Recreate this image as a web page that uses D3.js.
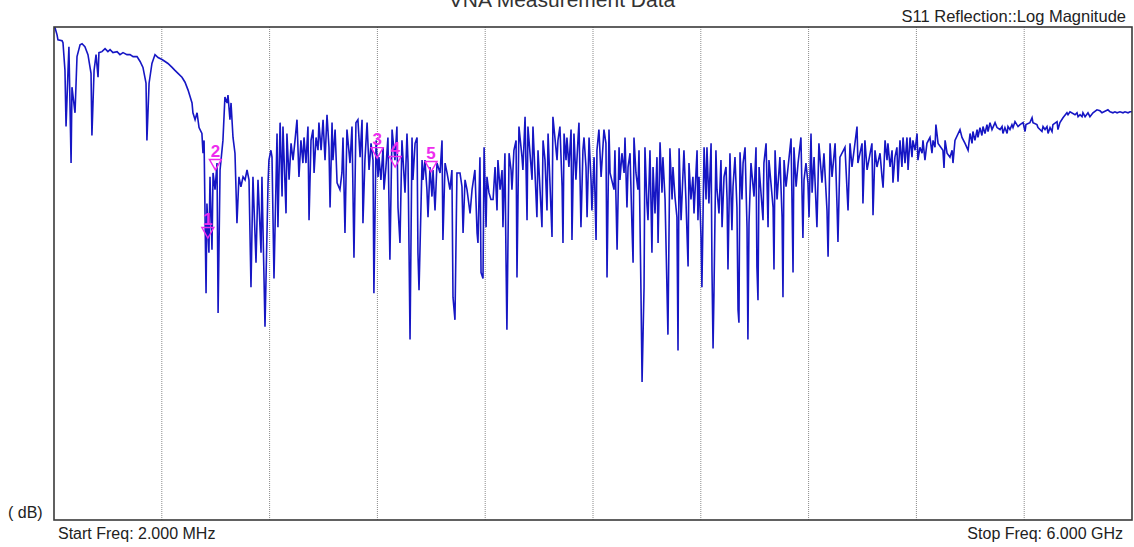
<!DOCTYPE html>
<html>
<head>
<meta charset="utf-8">
<script src="https://cdn.jsdelivr.net/npm/d3@7"></script>
<style>
    body { margin: 0; background: #ffffff; }
    #vna_chart { width: 1134px; height: 547px; overflow: hidden; }
</style>
</head>
<body>
<div id="vna_chart"></div>
<script>
// sweep points (MHz / dB)
const freq_mhz = [
    2, 8, 19, 24, 47, 52, 63, 69, 80, 85, 97, 102, 119, 130, 147, 158, 174, 191, 208, 213,
    225, 236, 247, 252, 269, 286, 302, 314, 330, 353, 369, 386, 408, 425, 442, 464, 481, 497, 514, 519,
    531, 547, 564, 581, 603, 620, 636, 659, 675, 692, 714, 731, 748, 770, 775, 787, 798, 809, 825, 831,
    837, 848, 853, 864, 870, 881, 887, 898, 909, 915, 926, 942, 953, 965, 970, 981, 987, 998, 1009, 1020,
    1031, 1042, 1054, 1065, 1076, 1087, 1098, 1109, 1126, 1137, 1154, 1159, 1176, 1193, 1198, 1209,
    1215, 1226, 1243, 1248, 1260, 1271, 1276, 1293, 1298, 1310, 1321, 1332, 1343, 1354, 1365, 1376, 1387, 1393, 1404, 1415,
    1421, 1432, 1443, 1449, 1460, 1471, 1476, 1488, 1499, 1510, 1521, 1532, 1538, 1549, 1554, 1566, 1577, 1593, 1604, 1610,
    1621, 1632, 1649, 1660, 1671, 1682, 1693, 1705, 1716, 1721, 1732, 1744, 1755, 1766, 1777, 1782, 1794, 1805, 1810, 1821,
    1833, 1838, 1849, 1860, 1871, 1883, 1899, 1910, 1916, 1927, 1938, 1955, 1966, 1972, 1983, 1994, 1999, 2011, 2022, 2027,
    2033, 2050, 2055, 2066, 2077, 2083, 2094, 2105, 2111, 2122, 2133, 2150, 2161, 2166, 2178, 2189, 2205, 2216, 2222, 2233,
    2244, 2261, 2272, 2278, 2289, 2300, 2317,
    2328, 2344, 2356, 2361, 2372, 2378, 2389, 2395, 2406, 2411, 2422, 2433, 2445, 2456, 2467, 2472, 2484, 2495, 2500, 2511,
    2517, 2522, 2534, 2545, 2550, 2561, 2573, 2578, 2589, 2606, 2611, 2623, 2634, 2639, 2662, 2667, 2689, 2695, 2717, 2723,
    2734, 2745, 2751, 2773, 2778, 2801, 2806, 2817, 2829, 2834, 2840, 2851, 2856, 2867, 2879, 2884, 2895, 2906, 2918, 2923,
    2934, 2945, 2951, 2962, 2968, 2979, 2990, 2995, 3007, 3018, 3023, 3034, 3046, 3062, 3073, 3079, 3090, 3096, 3118, 3123,
    3135, 3146, 3151, 3162, 3174, 3179, 3190, 3196, 3207, 3218, 3224, 3229, 3240, 3251, 3257, 3268, 3274, 3285, 3290, 3301,
    3307, 3318, 3329, 3335, 3346, 3357, 3363, 3374, 3385, 3390, 3402, 3418, 3429, 3441, 3446, 3457, 3468, 3474, 3480, 3491,
    3507, 3518, 3530, 3535, 3546, 3557, 3563,
    3580, 3585, 3591, 3602, 3607, 3619, 3630, 3635, 3646, 3658, 3663, 3669, 3674, 3685, 3691, 3702, 3713, 3719, 3730, 3741,
    3747, 3752, 3763, 3774, 3780, 3791, 3802, 3808, 3813, 3819, 3830, 3836, 3847, 3858, 3863, 3869, 3880, 3897, 3908, 3913,
    3919, 3925, 3947, 3952, 3964, 3975, 3980, 4003, 4008, 4014, 4025, 4041, 4053, 4058, 4064, 4075, 4103, 4114, 4119, 4131,
    4142, 4158, 4169, 4175, 4186, 4197, 4203, 4214, 4220, 4231, 4247, 4258, 4275, 4286, 4303, 4309, 4320, 4331, 4348, 4359,
    4364, 4375, 4403, 4420, 4431, 4442, 4470, 4475, 4498, 4503, 4514, 4526, 4553, 4559, 4570, 4581, 4598, 4609, 4615, 4626,
    4637, 4642, 4654, 4665, 4670, 4681, 4692, 4698,
    4709, 4720, 4726, 4737, 4748, 4754, 4765, 4776, 4781, 4793, 4804, 4809, 4820, 4832, 4837, 4848, 4859, 4876, 4887, 4893,
    4904, 4909, 4921, 4948, 4954, 4960, 4971, 4987, 4999, 5004, 5015, 5043, 5054, 5071, 5088, 5099, 5110, 5115, 5126, 5138,
    5143, 5154, 5165, 5171, 5182, 5193, 5199, 5210, 5221, 5238, 5249, 5266, 5277, 5282, 5293, 5305, 5310, 5321, 5332, 5338,
    5349, 5366, 5377, 5394, 5405, 5410, 5432, 5444, 5449, 5471, 5477, 5499, 5505, 5516, 5527, 5533, 5544, 5555, 5560, 5583,
    5588, 5599, 5616, 5638, 5644, 5655, 5683, 5694, 5700, 5711, 5722, 5727, 5739, 5755, 5766, 5783, 5805, 5822, 5833, 5866,
    5878, 5894, 5905, 5917, 5933, 5950, 5961, 5978, 5989, 6000
];

const s11_db = [
    0.0, -0.1, -0.8, -1.3, -1.4, -1.6, -4.4, -10.1, -4.4, -2.0, -13.8, -6.1, -8.7, -3.0, -1.8, -1.7, -2.0, -2.8, -4.7, -11.0,
    -4.4, -2.8, -5.1, -2.6, -2.5, -2.2, -2.5, -2.3, -2.6, -2.5, -2.8, -2.6, -2.8, -2.8, -3.0, -3.0, -3.5, -4.1, -5.7, -11.5,
    -5.7, -3.7, -2.8, -3.1, -3.3, -3.5, -3.7, -4.1, -4.4, -4.7, -5.1, -5.6, -6.4, -7.7, -8.7, -9.4, -8.7, -10.2, -10.8, -12.8,
    -11.5, -27.0, -17.9, -22.9, -15.2, -22.6, -14.8, -16.5, -13.8, -29.0, -14.5, -11.5, -7.1, -7.7, -6.9, -9.4, -7.7, -11.2, -12.8, -19.9,
    -15.2, -16.2, -15.2, -15.5, -14.5, -15.5, -26.4, -15.2, -23.9, -15.5, -22.9, -15.2, -30.4, -15.8, -13.5, -12.5,
    -13.2, -25.5, -10.8, -20.3, -9.7, -17.2, -10.1, -18.9, -10.8, -15.5, -11.8, -13.5, -11.5, -9.4, -15.2, -11.5, -13.8, -11.2, -13.8, -10.1,
    -19.6, -11.5, -10.4, -14.8, -11.2, -12.5, -9.7, -12.5, -9.4, -13.5, -8.9, -12.2, -18.3, -9.7, -13.5, -10.4, -15.8, -16.5, -14.8, -11.2,
    -20.9, -10.4, -13.8, -10.1, -23.4, -9.7, -9.4, -13.2, -9.4, -19.9, -13.5, -9.7, -14.5, -11.8, -13.5, -27.0, -11.5, -15.2, -13.2, -15.5,
    -12.2, -16.5, -14.2, -11.2, -23.6, -10.4, -13.5, -10.1, -18.3, -21.9, -11.5, -16.8, -10.8, -13.8, -31.7, -11.2, -15.5, -11.8, -11.2, -22.9,
    -26.7, -13.5, -15.5, -13.5, -16.5, -19.3, -14.2, -17.2, -14.5, -18.6, -13.8, -14.8, -11.5, -21.6, -13.8, -14.8, -16.5, -14.5, -27.4, -29.7,
    -14.8, -14.8, -16.2, -20.9, -15.5, -16.5, -18.9,
    -16.5, -14.5, -20.9, -21.9, -13.2, -24.9, -25.5, -12.2, -20.3, -15.2, -16.8, -17.5, -17.5, -14.2, -18.6, -13.5, -16.5, -14.5, -20.3, -12.8,
    -23.6, -30.7, -12.8, -14.5, -16.5, -12.5, -11.5, -25.4, -10.1, -13.2, -14.5, -9.1, -19.6, -10.1, -15.5, -10.1, -19.3, -12.5, -20.3, -11.5,
    -13.5, -18.6, -10.8, -21.3, -9.1, -13.5, -11.5, -10.1, -16.2, -21.9, -10.8, -13.5, -11.2, -14.2, -10.4, -21.6, -10.8, -15.5, -11.2, -9.7,
    -20.3, -12.5, -11.2, -14.2, -19.3, -11.2, -15.5, -18.6, -13.2, -21.6, -12.5, -10.4, -15.2, -10.4, -11.8, -25.4, -10.4, -14.8, -16.5, -12.5,
    -22.6, -12.2, -15.5, -12.8, -14.8, -11.2, -18.3, -14.2, -12.8, -20.3, -23.9, -11.2, -14.8, -16.5, -12.5, -27.0, -36.0, -26.4, -12.2, -17.9,
    -19.6, -12.5, -22.9, -14.2, -18.9, -13.2, -21.9, -11.7, -16.8, -13.2, -17.5, -31.2, -12.3, -17.5, -14.2, -17.2, -19.3, -32.8, -12.3, -19.6,
    -12.5, -17.5, -24.3, -13.8, -17.5, -15.2, -18.9,
    -12.5, -19.6, -15.2, -21.3, -26.4, -12.2, -17.5, -12.2, -17.9, -11.8, -24.6, -32.6, -27.0, -12.5, -16.5, -18.9, -13.5, -20.3, -15.2, -14.2,
    -17.5, -24.6, -12.8, -20.6, -16.2, -13.2, -18.3, -28.7, -30.0, -12.7, -17.5, -13.8, -12.2, -20.3, -31.7, -19.9, -13.8, -17.2, -12.2, -24.3,
    -27.7, -14.2, -19.6, -13.8, -11.8, -20.3, -13.5, -18.3, -24.6, -12.5, -17.5, -13.2, -19.3, -27.4, -13.5, -16.2, -11.3, -24.9, -12.2, -16.2,
    -13.8, -11.2, -21.4, -15.5, -13.8, -15.8, -19.3, -10.8, -16.8, -13.2, -20.3, -11.8, -15.8, -12.8, -18.6, -23.3, -11.8, -15.2, -11.8, -18.3,
    -21.8, -13.2, -12.2, -18.6, -11.8, -14.2, -10.1, -13.8, -11.8, -17.9, -11.5, -14.5, -11.8, -19.1, -12.5, -14.2, -12.8, -15.2, -16.3, -11.5,
    -13.5, -11.8, -14.2, -12.5, -15.8, -13.2, -12.2, -15.7,
    -11.5, -14.2, -11.2, -13.8, -11.2, -14.5, -11.2, -13.2, -11.5, -12.5, -10.8, -13.5, -12.2, -12.8, -11.5, -13.5, -11.8, -11.2, -12.8, -11.5,
    -12.2, -9.9, -11.8, -12.5, -14.3, -11.5, -12.8, -13.2, -12.5, -13.8, -11.5, -10.4, -11.2, -11.8, -12.5, -10.8, -11.8, -10.6, -11.5, -10.4,
    -11.2, -10.2, -11.0, -10.1, -10.8, -9.9, -10.6, -9.7, -10.4, -9.7, -10.2, -10.4, -10.1, -10.8, -10.2, -10.8, -10.1, -10.4, -9.9, -10.2,
    -9.6, -10.1, -9.9, -9.7, -10.6, -9.9, -9.7, -9.2, -9.7, -9.9, -10.2, -10.6, -10.1, -10.4, -10.1, -10.8, -10.2, -10.6, -9.9, -9.6,
    -10.4, -9.7, -9.2, -8.7, -8.9, -8.6, -8.9, -8.7, -9.1, -8.9, -9.1, -8.7, -9.1, -8.7, -9.1, -8.7, -8.4, -8.5, -8.7, -8.4,
    -8.6, -8.7, -8.6, -8.7, -8.6, -8.7, -8.6, -8.7, -8.6, -8.6
];

// markers
const marker_labels = ["1", "2", "3", "4", "5"];
const marker_freqs = [858, 900, 1800, 1900, 2100];
const marker_db = [-21.4, -14.5, -13.3, -14.2, -14.7];

// sweep settings and text
const start_freq = 2;
const stop_freq = 6000;
const db_range = [-50, 0];
const chart_title = "VNA Measurement Data";
const trace_title = "S11 Reflection::Log Magnitude";
const start_label = "Start Freq: 2.000 MHz";
const stop_label = "Stop Freq: 6.000 GHz";
const unit_label = "( dB)";

class Vna_Trace {
    constructor(parent_element) {
        // define variables
        this.parent_element = parent_element;
        this.trace_data = freq_mhz.map((f, i) => ({freq: f, db: s11_db[i]}));
        this.marker_data = marker_labels.map((m, i) => ({label: m, freq: marker_freqs[i], db: marker_db[i]}));
        this.font = "Arial, 'Liberation Sans', sans-serif";
        this.trace_color = "#1616c4";
        this.marker_color = "#ee2cee";

        this.initVis();
    }

    initVis() {
        this.margin = {top: 27, right: 2, bottom: 27, left: 54};
        this.width = 1134;
        this.height = 547;
        this.plot_width = this.width - this.margin.left - this.margin.right;
        this.plot_height = this.height - this.margin.top - this.margin.bottom;

        this.svg = d3.select("#" + this.parent_element)
            .append("svg")
            .attr("width", this.width)
            .attr("height", this.height);

        this.plot = this.svg.append("g")
            .attr("transform", "translate(" + this.margin.left + "," + this.margin.top + ")");

        // scales
        this.x = d3.scaleLinear()
            .domain([start_freq, stop_freq])
            .range([0, this.plot_width]);

        this.y = d3.scaleLinear()
            .domain(db_range)
            .range([this.plot_height, 0]);

        this.plot.append("clipPath")
            .attr("id", "plot_clip")
            .append("rect")
            .attr("width", this.plot_width)
            .attr("height", this.plot_height);

        this.updateVis();
    }

    updateVis() {
        // dotted vertical divisions
        const grid_freqs = d3.range(1, 10).map(i => start_freq + i * (stop_freq - start_freq) / 10);
        this.plot.append("g")
            .selectAll("line")
            .data(grid_freqs)
            .join("line")
            .attr("x1", d => this.x(d))
            .attr("x2", d => this.x(d))
            .attr("y1", 0)
            .attr("y2", this.plot_height)
            .attr("stroke", "#8a8a8a")
            .attr("stroke-width", 1)
            .attr("stroke-dasharray", "1,1");

        // trace
        const line = d3.line()
            .x(d => this.x(d.freq))
            .y(d => this.y(d.db));

        this.plot.append("path")
            .datum(this.trace_data)
            .attr("clip-path", "url(#plot_clip)")
            .attr("fill", "none")
            .attr("stroke", this.trace_color)
            .attr("stroke-width", 1.6)
            .attr("stroke-linejoin", "miter")
            .attr("d", line);

        // markers
        const markers = this.plot.append("g")
            .selectAll("g")
            .data(this.marker_data)
            .join("g")
            .attr("transform", d => `translate(${this.x(d.freq)},${this.y(d.db)})`);

        markers.append("path")
            .attr("d", "M-6,-10.5L6,-10.5L0,0Z")
            .attr("fill", "none")
            .attr("stroke", this.marker_color)
            .attr("stroke-width", 1.4);

        markers.append("text")
            .attr("x", 0)
            .attr("y", -13)
            .attr("text-anchor", "middle")
            .attr("font-family", this.font)
            .attr("font-weight", "bold")
            .attr("font-size", "17px")
            .attr("fill", this.marker_color)
            .text(d => d.label);

        // plot frame
        this.plot.append("rect")
            .attr("width", this.plot_width)
            .attr("height", this.plot_height)
            .attr("fill", "none")
            .attr("stroke", "#3a3a3a")
            .attr("stroke-width", 1.6);

        // texts
        this.svg.append("text")
            .attr("x", 562)
            .attr("y", 7)
            .attr("text-anchor", "middle")
            .attr("font-family", this.font)
            .attr("font-size", "21px")
            .attr("fill", "#333")
            .text(chart_title);

        this.svg.append("text")
            .attr("x", 1126)
            .attr("y", 22)
            .attr("text-anchor", "end")
            .attr("font-family", this.font)
            .attr("font-size", "16.5px")
            .attr("fill", "#222")
            .text(trace_title);

        this.svg.append("text")
            .attr("x", 8)
            .attr("y", 518)
            .attr("font-family", this.font)
            .attr("font-size", "16px")
            .attr("fill", "#222")
            .text(unit_label);

        this.svg.append("text")
            .attr("x", 58)
            .attr("y", 539)
            .attr("font-family", this.font)
            .attr("font-size", "16px")
            .attr("fill", "#222")
            .text(start_label);

        this.svg.append("text")
            .attr("x", 1123)
            .attr("y", 539)
            .attr("text-anchor", "end")
            .attr("font-family", this.font)
            .attr("font-size", "16px")
            .attr("fill", "#222")
            .text(stop_label);
    }
}

new Vna_Trace("vna_chart");
</script>
</body>
</html>
